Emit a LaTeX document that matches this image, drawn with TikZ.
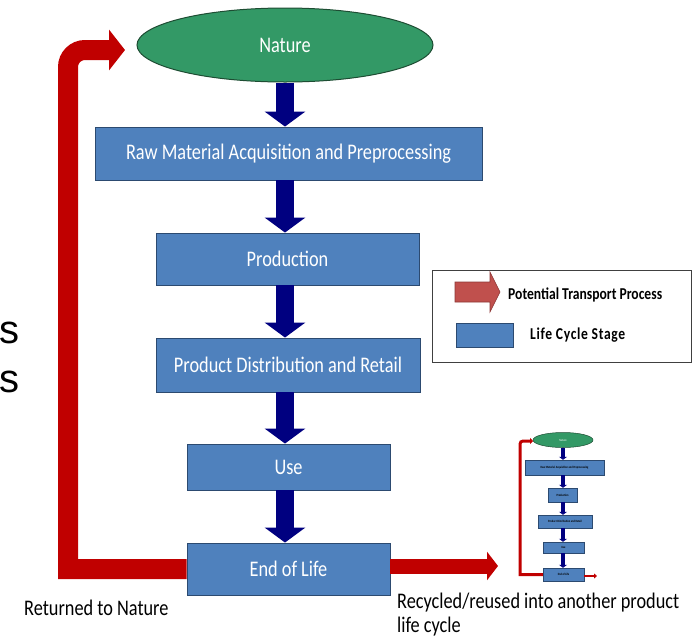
\documentclass[tikz,border=0pt]{standalone}
\usepackage{fontspec}
\setmainfont{Carlito}[FakeStretch=0.82]
\newfontfamily\arialfont{Liberation Sans}
\usetikzlibrary{arrows.meta,shapes.geometric}

\definecolor{stageblue}{HTML}{4F81BD}
\definecolor{stageedge}{HTML}{2C4A70}
\definecolor{naturegreen}{HTML}{339966}
\definecolor{natureedge}{HTML}{1E4D33}
\definecolor{flownavy}{HTML}{000080}
\definecolor{transred}{HTML}{C00000}
\definecolor{legendred}{HTML}{C0504D}
\definecolor{legendredge}{HTML}{8C3836}
\definecolor{legendframe}{HTML}{404040}

\tikzset{
  stage/.style={rectangle, fill=stageblue, draw=stageedge, line width=0.9pt,
    text=white, inner sep=0pt, font=\fontsize{22.3}{26}\selectfont},
  naturenode/.style={ellipse, fill=naturegreen, draw=natureedge, line width=1pt,
    text=white, inner sep=0pt, font=\fontsize{22.3}{26}\selectfont},
  flow/.style={draw=flownavy, line width=18pt, -{Triangle[width=40pt,length=15pt]}},
  transport/.style={draw=transred, line width=20pt, -{Triangle[width=40pt,length=16pt]}},
  caption/.style={inner sep=0pt, text=black, font=\fontsize{22.3}{24}\selectfont},
  legendtext/.style={inner sep=0pt, anchor=west, text=black},
  % reduced copy of the cycle
  ministage/.style={rectangle, fill=stageblue, draw=stageedge, line width=0.5pt,
    inner sep=0pt, text=black, font=\bfseries\fontsize{3.2}{3.5}\selectfont},
  mininature/.style={ellipse, fill=naturegreen, draw=natureedge, line width=0.5pt,
    inner sep=0pt, text=white, font=\fontsize{3.2}{3.5}\selectfont},
  miniflow/.style={draw=flownavy, line width=3.5pt, -{Triangle[width=8pt,length=3pt]}},
  minitransport/.style={draw=transred, line width=3pt, -{Triangle[width=6pt,length=3pt]}},
}

\begin{document}
\begin{tikzpicture}[x=1pt,y=-1pt]
\useasboundingbox (0,0) rectangle (694,638);

% fragment of a neighbouring text
\node[anchor=base east, inner sep=0pt, font=\arialfont\fontsize{40}{40}\selectfont] (s1) at (19.5,343) {s};
\node[anchor=base east, inner sep=0pt, font=\arialfont\fontsize{40}{40}\selectfont] (s2) at (19.5,392) {s};

% life cycle stages
\node[naturenode, minimum width=296pt, minimum height=74pt] (nature) at (285,45) {Nature};
\node[stage, minimum width=387pt, minimum height=53pt] (raw) at (288.5,153.5) {Raw Material Acquisition and Preprocessing};
\node[stage, minimum width=263pt, minimum height=52pt] (prod) at (287.5,259) {Production};
\node[stage, minimum width=264pt, minimum height=54pt] (dist) at (288,365) {Product Distribution and Retail};
\node[stage, minimum width=203pt, minimum height=46pt] (use) at (288.5,467) {Use};
\node[stage, minimum width=203pt, minimum height=52pt] (eol) at (288.5,569) {End of Life};

% flow between stages
\draw[flow] (nature.south) -- (nature.south |- raw.north);
\draw[flow] (nature.south |- raw.south) -- (nature.south |- prod.north);
\draw[flow] (nature.south |- prod.south) -- (nature.south |- dist.north);
\draw[flow] (nature.south |- dist.south) -- (nature.south |- use.north);
\draw[flow] (nature.south |- use.south) -- (nature.south |- eol.north);

% return to nature
\coordinate (ret) at (125,50);
\coordinate (bend) at (68,50);
\draw[transport] (eol.west) -- (eol.west -| bend) [rounded corners=17pt] -- (bend) -- (ret);

% recycling
\coordinate (recyc) at (498,566);
\draw[draw=transred, line width=15pt, -{Triangle[width=28pt,length=11pt]}] (eol.east |- recyc) -- (recyc);

\node[caption, anchor=base west] (returned) at (24,615) {Returned to Nature};
\node[caption, anchor=base west, align=left] (recycled) at (397,632)
  {Recycled/reused into another product\\life cycle};

% legend
\node[draw=legendframe, line width=0.8pt, fill=white, minimum width=259pt, minimum height=92pt, inner sep=0pt] (legend) at (561.5,316) {};
\filldraw[fill=legendred, draw=legendredge, line width=0.6pt]
  (455,282) -- (490,282) -- (490,272) -- (500,292) -- (490,312) -- (490,302) -- (455,302) -- cycle;
\node[legendtext, font=\bfseries\fontsize{16.6}{18}\selectfont] (legarrowtext) at (508,295) {Potential Transport Process};
\node[rectangle, fill=stageblue, draw=stageedge, line width=0.6pt, minimum width=57pt, minimum height=24pt, inner sep=0pt] (legbox) at (484.5,335) {};
\node[legendtext, font=\bfseries\fontsize{16.6}{18}\selectfont\addfontfeature{LetterSpace=4}] (legboxtext) at (530,335) {Life Cycle Stage};

% the next cycle, drawn small
\node[mininature, minimum width=60pt, minimum height=15pt] (mnature) at (563,440) {Nature};
\node[ministage, minimum width=79pt, minimum height=15pt] (m1) at (564.5,467.5) {Raw Material Acquisition and Preprocessing};
\node[ministage, minimum width=29pt, minimum height=14pt] (m2) at (562.5,495) {Production};
\node[ministage, minimum width=54pt, minimum height=13pt] (m3) at (565,521.5) {Product Distribution and Retail};
\node[ministage, minimum width=41pt, minimum height=11pt] (m4) at (563.5,547.5) {Use};
\node[ministage, minimum width=41pt, minimum height=13pt] (m5) at (563.5,574.5) {End of Life};

\draw[miniflow] (mnature.south) -- (mnature.south |- m1.north);
\draw[miniflow] (mnature.south |- m1.south) -- (mnature.south |- m2.north);
\draw[miniflow] (mnature.south |- m2.south) -- (mnature.south |- m3.north);
\draw[miniflow] (mnature.south |- m3.south) -- (mnature.south |- m4.north);
\draw[miniflow] (mnature.south |- m4.south) -- (mnature.south |- m5.north);

\coordinate (mret) at (533,441);
\coordinate (mbend) at (520,441);
\draw[minitransport] (m5.west) -- (m5.west -| mbend) [rounded corners=3pt] -- (mbend) -- (mret);
\coordinate (mrecyc) at (597,576);
\draw[draw=transred, line width=2pt, -{Triangle[width=5pt,length=3pt]}] (m5.east |- mrecyc) -- (mrecyc);
\end{tikzpicture}
\end{document}
